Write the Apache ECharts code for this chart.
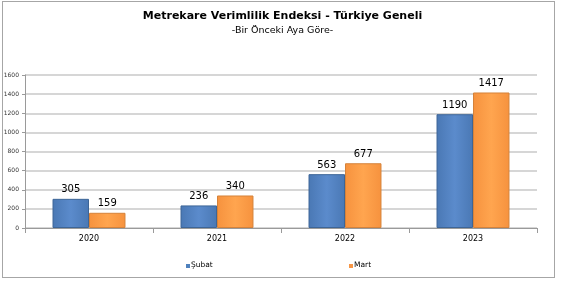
<!DOCTYPE html>
<html><head><meta charset="utf-8">
<script src="https://cdn.jsdelivr.net/npm/echarts@6/dist/echarts.min.js"></script>
<style>html,body{margin:0;padding:0;background:#fff}#c{width:565px;height:287px}
#frame{position:absolute;left:2px;top:1px;width:553px;height:277px;border:1px solid #a6a6a6;box-sizing:border-box;pointer-events:none}</style>
</head><body><div id="c"></div><div id="frame"></div>
<script>
const categories = ['2020','2021','2022','2023'];
const subat = [305, 236, 563, 1190];
const mart = [159, 340, 677, 1417];
const seriesNames = ['Şubat','Mart'];

const chart = echarts.init(document.getElementById('c'));
function grad(c1, c2, c3){
  return new echarts.graphic.LinearGradient(0,0,1,0,[{offset:0,color:c1},{offset:0.5,color:c2},{offset:1,color:c3}]);
}
chart.setOption({
  animation:false,
  title:[
    {text:'Metrekare Verimlilik Endeksi - Türkiye Geneli', left:'center', top:6,
     textStyle:{fontFamily:'DejaVu Sans', fontSize:11, fontWeight:'bold', color:'#000'}},
    {text:'-Bir Önceki Aya Göre-', left:'center', top:21,
     textStyle:{fontFamily:'DejaVu Sans', fontSize:9.5, fontWeight:'normal', color:'#000'}}
  ],
  grid:{left:25, right:28, top:75, bottom:59, containLabel:false},
  legend:{show:false},
  xAxis:{type:'category', data:categories,
    axisLine:{lineStyle:{color:'#9a9a9a'}},
    axisTick:{show:true, lineStyle:{color:'#9a9a9a'}},
    axisLabel:{fontFamily:'DejaVu Sans', fontSize:8, color:'#000', margin:7}},
  yAxis:{type:'value', min:0, max:1600, interval:200,
    axisLine:{show:true, lineStyle:{color:'#9a9a9a'}},
    axisTick:{show:true, length:3, lineStyle:{color:'#9a9a9a'}},
    splitLine:{lineStyle:{color:'#c8c8c8', width:1.5}},
    axisLabel:{fontFamily:'DejaVu Sans', fontSize:6, color:'#333', margin:6, formatter:function(v){return String(v);}}},
  series:[
    {name:seriesNames[0], type:'bar', data:subat, barGap:'0%', barCategoryGap:'43%',
     itemStyle:{color:grad('#4a78b4','#5b8bcc','#4a78b4'), borderColor:'#3d6597', borderWidth:1},
     label:{show:true, position:'top', fontFamily:'DejaVu Sans', fontSize:10, color:'#000', distance:4}},
    {name:seriesNames[1], type:'bar', data:mart,
     itemStyle:{color:grad('#f6923e','#ffa54f','#f6923e'), borderColor:'#d5823a', borderWidth:1},
     label:{show:true, position:'top', fontFamily:'DejaVu Sans', fontSize:10, color:'#000', distance:4}}
  ],
  graphic:[
    {type:'rect', left:186, top:264, shape:{width:4,height:4}, style:{fill:'#4f81bd'}},
    {type:'text', left:191, top:261, style:{text:seriesNames[0], font:'7.5px "DejaVu Sans"', fill:'#000'}},
    {type:'rect', left:349, top:264, shape:{width:4,height:4}, style:{fill:'#f79646'}},
    {type:'text', left:354, top:261, style:{text:seriesNames[1], font:'7.5px "DejaVu Sans"', fill:'#000'}}
  ]
});
</script></body></html>
